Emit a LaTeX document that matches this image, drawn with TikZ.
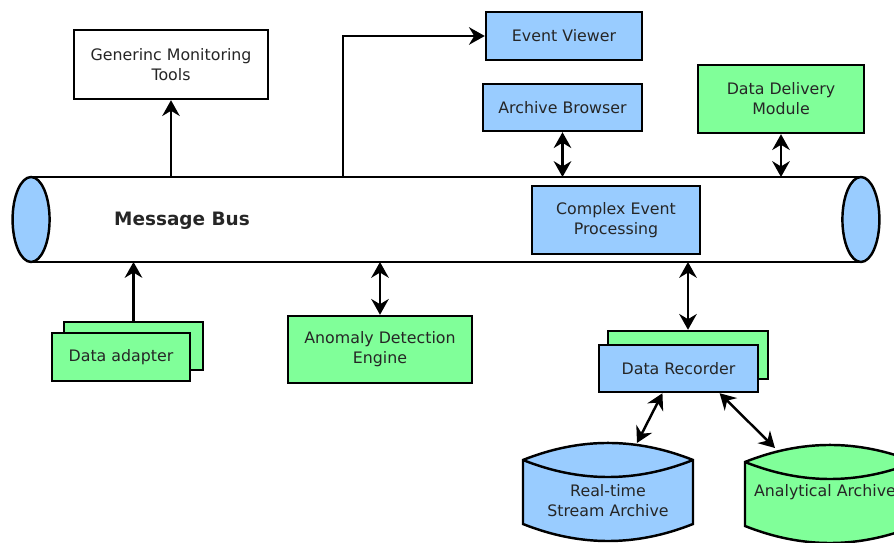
\documentclass[tikz,border=0pt]{standalone}
\usepackage{fontspec}
\setmainfont{DejaVu Sans}
\usetikzlibrary{arrows.meta,positioning}
\definecolor{boxblue}{HTML}{99CCFF}
\definecolor{boxgreen}{HTML}{80FF99}

\begin{document}
\begin{tikzpicture}[x=0.02cm, y=-0.02cm, line width=1.4pt,
  >={Stealth[length=9pt,width=10pt,inset=3pt]},
  every node/.style={font=\fontsize{9}{11.5}\selectfont, align=center, text=black!85},
  box/.style={draw, rectangle, inner sep=2pt},
  whitebox/.style={box, fill=white},
  bluebox/.style={box, fill=boxblue},
  greenbox/.style={box, fill=boxgreen},
  archive/.pic={
    \draw[fill=#1] (0,0) .. controls (57,-22.7) and (113,-22.7) .. (170,0)
      -- (170,64) .. controls (113,86.7) and (57,86.7) .. (0,64) -- cycle;
    \draw (0,0) .. controls (57,22.7) and (113,22.7) .. (170,0);
  }]
\useasboundingbox (0,0) rectangle (894,543);
\clip (0,0) rectangle (894,543);

% message bus
\node[minimum width=16.6cm, minimum height=1.7cm, outer sep=0pt] (bus) at (446,219.5) {};
\draw (bus.north west) -- (bus.north east) (bus.south west) -- (bus.south east);
\draw[fill=boxblue] (bus.west) ellipse [x radius=0.37cm, y radius=0.85cm];
\draw[fill=boxblue] (bus.east) ellipse [x radius=0.37cm, y radius=0.85cm];
\node[font=\bfseries\fontsize{10.5}{12}\selectfont] (bustitle) at (182,221) {Message Bus};
\coordinate (evtap) at (343,177);

% modules
\node[whitebox, minimum width=3.88cm, minimum height=1.38cm] (gmt)  at (171,64.5)  {Generinc Monitoring\\Tools};
\node[bluebox,  minimum width=3.12cm, minimum height=0.96cm] (ev)   at (564,36)    {Event Viewer};
\node[bluebox,  minimum width=3.18cm, minimum height=0.94cm] (ab)   at (562.5,107.5) {Archive Browser};
\node[greenbox, minimum width=3.32cm, minimum height=1.36cm] (ddm)  at (781,99)    {Data Delivery\\Module};
\node[bluebox,  minimum width=3.36cm, minimum height=1.36cm] (cep)  at (616,220)   {Complex Event\\Processing};

\node[greenbox, minimum width=2.78cm, minimum height=0.96cm] (daback) at (133.5,346) {};
\node[greenbox, minimum width=2.76cm, minimum height=0.96cm] (da)     at (121,357)   {Data adapter};
\node[greenbox, minimum width=3.68cm, minimum height=1.34cm] (ade)    at (380,349.5) {Anomaly Detection\\Engine};
\node[greenbox, minimum width=3.2cm,  minimum height=0.96cm] (drback) at (688,355)   {};
\node[bluebox,  minimum width=3.18cm, minimum height=0.94cm] (dr)     at (678.5,368.5) {Data Recorder};

% archives
\pic at (523,460) {archive=boxblue};
\pic at (745,462) {archive=boxgreen};
\node (rt) at (608,501) {Real-time\\Stream Archive};
\node (aa) at (825,492) {Analytical Archive};
\coordinate (rttop) at (637,443);
\coordinate (aatop) at (775,448);

% links
\draw[->]  (bus.north -| gmt.south) -- (gmt.south);
\draw[->]  (evtap) |- (ev.west);
\draw[<->] (ab.south) -- (ab.south |- bus.north);
\draw[<->] (ddm.south) -- (ddm.south |- bus.north);
\draw[->]  (daback.north) -- (daback.north |- bus.south);
\draw[<->] (ade.north) -- (ade.north |- bus.south);
\draw[<->] (drback.north) -- (drback.north |- bus.south);
\draw[<->] (dr.-123) -- (rttop);
\draw[<->] (dr.-31) -- (aatop);
\end{tikzpicture}
\end{document}
